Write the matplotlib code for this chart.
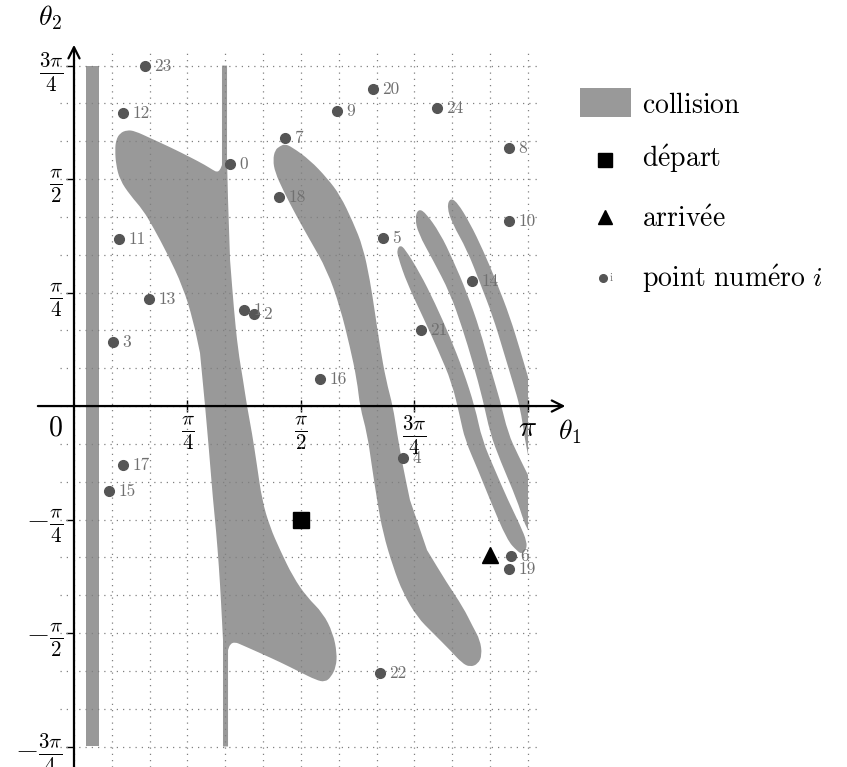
import numpy as np
import matplotlib.pyplot as plt
from matplotlib.patches import PathPatch, Rectangle
from matplotlib.path import Path

plt.rcParams['font.family'] = ['cmr10', 'DejaVu Serif']
plt.rcParams['mathtext.fontset'] = 'cm'
plt.rcParams['axes.unicode_minus'] = False

# collision regions in (theta1, theta2), radians
strip_t1 = [0.083, 0.173, 0.173, 0.083]
strip_t2 = [2.356, 2.356, -2.356, -2.356]

lobe_t1 = [0.284, 0.291, 0.318, 0.367, 0.422, 0.526, 0.664, 0.803, 0.907, 0.962,
           0.990, 1.010, 1.024, 1.024, 1.059, 1.059, 1.066, 1.080, 1.107, 1.135,
           1.170, 1.197, 1.232, 1.266, 1.301, 1.356, 1.426, 1.516, 1.612, 1.723,
           1.792, 1.820, 1.813, 1.779, 1.737, 1.675, 1.564, 1.426, 1.287, 1.163,
           1.114, 1.080, 1.066, 1.066, 1.031, 1.031, 1.017, 1.003, 0.983, 0.962,
           0.934, 0.907, 0.872, 0.824, 0.754, 0.644, 0.547, 0.478, 0.388, 0.318,
           0.291]
lobe_t2 = [1.772, 1.841, 1.889, 1.910, 1.903, 1.855, 1.792, 1.723, 1.668, 1.633,
           1.619, 1.633, 1.668, 2.356, 2.356, 1.702, 1.426, 1.010, 0.664, 0.388,
           0.180, 0.0, -0.187, -0.408, -0.651, -0.837, -0.997, -1.183, -1.322, -1.433,
           -1.571, -1.709, -1.806, -1.875, -1.910, -1.896, -1.841, -1.772, -1.709, -1.654,
           -1.633, -1.647, -1.689, -2.356, -2.356, -1.619, -1.343, -1.114, -0.858, -0.651,
           -0.304, 0.0, 0.367, 0.595, 0.824, 1.059, 1.239, 1.356, 1.460, 1.564,
           1.668]

mid_t1 = [1.426, 1.460, 1.509, 1.633, 1.751, 1.841, 1.931, 2.000, 2.048, 2.083,
          2.118, 2.159, 2.208, 2.235, 2.277, 2.325, 2.443, 2.581, 2.692, 2.761,
          2.810, 2.824, 2.796, 2.740, 2.685, 2.602, 2.484, 2.374, 2.277, 2.208,
          2.138, 2.097, 2.062, 2.028, 1.979, 1.958, 1.910, 1.841, 1.751, 1.633,
          1.543, 1.446, 1.391, 1.377, 1.391]
mid_t2 = [1.799, 1.813, 1.792, 1.702, 1.578, 1.460, 1.273, 1.100, 0.872, 0.644,
          0.408, 0.180, -0.007, -0.187, -0.422, -0.651, -0.997, -1.225, -1.391, -1.529,
          -1.619, -1.723, -1.785, -1.806, -1.779, -1.689, -1.571, -1.460, -1.294, -1.114,
          -0.879, -0.651, -0.422, -0.187, -0.007, 0.180, 0.408, 0.685, 0.941, 1.149,
          1.308, 1.495, 1.619, 1.702, 1.772]

band_a_t1 = [2.256, 2.291, 2.394, 2.498, 2.602, 2.692, 2.775, 2.824, 2.913, 3.003,
             3.087, 3.135, 3.128, 3.100, 3.066, 2.997, 2.879, 2.796, 2.706, 2.671,
             2.616, 2.519, 2.415, 2.304, 2.242, 2.235]
band_a_t2 = [1.114, 1.087, 0.920, 0.713, 0.478, 0.249, -0.007, -0.235, -0.443, -0.651,
             -0.824, -0.941, -0.997, -1.024, -1.003, -0.927, -0.651, -0.443, -0.235, -0.076,
             0.159, 0.388, 0.616, 0.851, 1.031, 1.080]

band_b_t1 = [2.381, 2.429, 2.533, 2.623, 2.720, 2.810, 2.879, 2.948, 3.003, 3.073,
             3.142, 3.142, 3.114, 3.066, 2.948, 2.879, 2.830, 2.761, 2.685, 2.602,
             2.484, 2.381, 2.360]
band_b_t2 = [1.363, 1.343, 1.197, 1.010, 0.782, 0.526, 0.270, 0.042, -0.187, -0.339,
             -0.478, -0.858, -0.803, -0.651, -0.374, -0.187, 0.042, 0.298, 0.547, 0.782,
             1.010, 1.197, 1.301]

band_c_t1 = [2.602, 2.651, 2.740, 2.830, 2.927, 3.017, 3.087, 3.142, 3.142, 3.121,
             3.087, 3.038, 2.969, 2.900, 2.810, 2.720, 2.616, 2.581]
band_c_t2 = [1.439, 1.412, 1.266, 1.080, 0.851, 0.616, 0.388, 0.201, -0.339, -0.235,
             -0.007, 0.159, 0.388, 0.616, 0.851, 1.080, 1.266, 1.377]

# numbered sample points 0..24
pt_t1 = [1.080, 1.176, 1.246, 0.270, 2.277, 2.138, 3.024, 1.460, 3.010, 1.820,
         3.010, 0.311, 0.339, 0.519, 2.754, 0.242, 1.702, 0.339, 1.419, 3.010,
         2.069, 2.401, 2.118, 0.491, 2.512]
pt_t2 = [1.675, 0.664, 0.637, 0.443, -0.360, 1.163, -1.038, 1.855, 1.785, 2.041,
         1.280, 1.156, 2.028, 0.740, 0.865, -0.588, 0.187, -0.408, 1.446, -1.128,
         2.194, 0.526, -1.848, 2.353, 2.062]

start = (np.pi / 2, -np.pi / 4)
goal = (2.88, -1.03)

x_ticks = [np.pi / 4, np.pi / 2, 3 * np.pi / 4, np.pi]
x_labels = [r'$\frac{\pi}{4}$', r'$\frac{\pi}{2}$', r'$\frac{3\pi}{4}$', r'$\pi$']
y_ticks = [3 * np.pi / 4, np.pi / 2, np.pi / 4, -np.pi / 4, -np.pi / 2, -3 * np.pi / 4]
y_labels = [r'$\frac{3\pi}{4}$', r'$\frac{\pi}{2}$', r'$\frac{\pi}{4}$',
            r'$-\frac{\pi}{4}$', r'$-\frac{\pi}{2}$', r'$-\frac{3\pi}{4}$']

# cmr10 has no usable "é", so the accented words go through mathtext
legend_labels = [r'$\mathrm{collision}$', r'$\mathrm{d\acute{e}part}$',
                 r'$\mathrm{arriv\acute{e}e}$', r'$\mathrm{point\ num\acute{e}ro}\ i$']

GRAY = '#999999'


def outline(t1, t2, sharp_edge=0.35):
    # closed outline, corners rounded with quadratic curves through edge
    # midpoints; a vertex touching a long straight edge is kept sharp
    v = np.column_stack([t1, t2])
    nxt = np.roll(v, -1, axis=0)
    prv = np.roll(v, 1, axis=0)
    mids = (v + nxt) / 2
    long_edge = (np.hypot(*(nxt - v).T) > sharp_edge) | (np.hypot(*(v - prv).T) > sharp_edge)
    verts = [mids[-1]]
    codes = [Path.MOVETO]
    for p, m, sharp in zip(v, mids, long_edge):
        verts += [p, m]
        codes += [Path.LINETO, Path.LINETO] if sharp else [Path.CURVE3, Path.CURVE3]
    return Path(verts, codes)


fig = plt.figure(figsize=(8.47, 7.67), dpi=100)
ax = fig.add_axes([0, 0, 1, 1])
ax.set_xlim(-0.512, 5.349)
ax.set_ylim(-2.498, 2.810)
for side in ['top', 'right', 'left', 'bottom']:
    ax.spines[side].set_visible(False)
ax.spines['left'].set_position(('data', 0))
ax.spines['bottom'].set_position(('data', 0))

# collision zones
for t1, t2 in [(strip_t1, strip_t2), (lobe_t1, lobe_t2), (mid_t1, mid_t2),
               (band_a_t1, band_a_t2), (band_b_t1, band_b_t2), (band_c_t1, band_c_t2)]:
    ax.add_patch(PathPatch(outline(t1, t2), facecolor=GRAY, edgecolor='none', zorder=1))

# dotted grid, step pi/12
step = np.pi / 12
ax.vlines(step * np.arange(0, 13), -2.50, 2.45, colors='#808080',
          linestyles=(0, (1, 4)), linewidth=0.9, zorder=2)
ax.hlines(step * np.arange(-9, 10), -0.10, 3.23, colors='#808080',
          linestyles=(0, (1, 4)), linewidth=0.9, zorder=2)

# axes with arrows
arrow = dict(arrowstyle='->', color='black', lw=1.6, shrinkA=0, shrinkB=0,
             mutation_scale=20)
ax.annotate('', xy=(3.40, 0), xytext=(-0.25, 0), arrowprops=arrow, zorder=3)
ax.annotate('', xy=(0, 2.50), xytext=(0, -2.50), arrowprops=arrow, zorder=3)

ax.set_xticks(x_ticks, x_labels)
ax.set_yticks(y_ticks, y_labels)
ax.tick_params(axis='x', direction='inout', length=8, width=1, pad=2, labelsize=21.5)
ax.tick_params(axis='y', direction='out', length=6, width=1, pad=2, labelsize=21.5)

ax.text(-0.131, -0.152, r'$0$', fontsize=20, ha='center', va='center')
ax.text(3.432, -0.180, r'$\theta_1$', fontsize=20, ha='center', va='center')
ax.text(-0.166, 2.685, r'$\theta_2$', fontsize=20, ha='center', va='center')

# points
ax.plot(pt_t1, pt_t2, 'o', color='#555555', ms=7, zorder=4)
for i, (x, y) in enumerate(zip(pt_t1, pt_t2)):
    ax.text(x + 0.065, y, str(i), fontsize=12.5, color='#707070',
            ha='left', va='center', zorder=4)

ax.plot(*start, 's', color='black', ms=11, zorder=5)
ax.plot(*goal, '^', color='black', ms=11, zorder=5)

# legend
ax.add_patch(Rectangle((3.501, 2.000), 0.353, 0.201, facecolor=GRAY, edgecolor='none'))
ax.plot(3.675, 1.702, 's', color='black', ms=10)
ax.plot(3.675, 1.308, '^', color='black', ms=10)
ax.plot(3.661, 0.886, 'o', color='#555555', ms=5.5)
ax.text(3.705, 0.886, 'i', fontsize=8, color='#707070', ha='left', va='center')
for lab, yb in zip(legend_labels, [2.028, 1.654, 1.239, 0.823]):
    ax.text(3.931, yb, lab, fontsize=20, ha='left', va='baseline')

fig.savefig('out.png', dpi=100)
